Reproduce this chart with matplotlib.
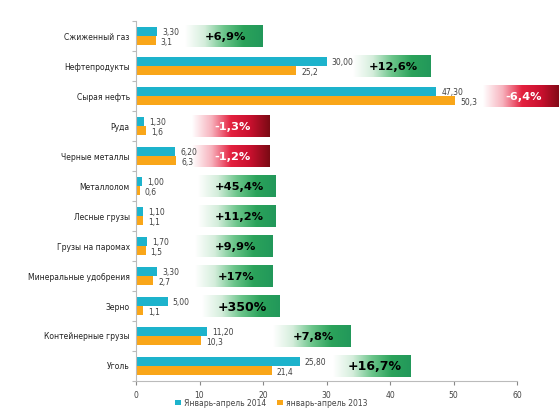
import numpy as np
import matplotlib.pyplot as plt
from matplotlib.colors import LinearSegmentedColormap

# категории сверху вниз
categories = ['Сжиженный газ', 'Нефтепродукты', 'Сырая нефть', 'Руда',
              'Черные металлы', 'Металлолом', 'Лесные грузы', 'Грузы на паромах',
              'Минеральные удобрения', 'Зерно', 'Контейнерные грузы', 'Уголь']
v2014 = [3.30, 30.00, 47.30, 1.30, 6.20, 1.00, 1.10, 1.70, 3.30, 5.00, 11.20, 25.80]
v2013 = [3.1, 25.2, 50.3, 1.6, 6.3, 0.6, 1.1, 1.5, 2.7, 1.1, 10.3, 21.4]
lab2014 = ['3,30', '30,00', '47,30', '1,30', '6,20', '1,00', '1,10', '1,70',
           '3,30', '5,00', '11,20', '25,80']
lab2013 = ['3,1', '25,2', '50,3', '1,6', '6,3', '0,6', '1,1', '1,5',
           '2,7', '1,1', '10,3', '21,4']
changes = ['+6,9%', '+12,6%', '-6,4%', '-1,3%', '-1,2%', '+45,4%', '+11,2%',
           '+9,9%', '+17%', '+350%', '+7,8%', '+16,7%']
# левый край плашки с процентом (в единицах оси x)
box_left = [7.7, 34.1, 54.6, 8.8, 8.8, 9.8, 9.8, 9.3, 9.3, 10.4, 21.5, 31.1]
box_w = 12.2

blue = '#1DB3CC'
orange = '#F9A619'
green_cm = LinearSegmentedColormap.from_list('g', ['#FFFFFF', '#D5EEDC', '#6CC58B', '#2BA35B', '#22985A'])
red_cm = LinearSegmentedColormap.from_list('r', ['#FFFFFF', '#F7B3BE', '#E4213F', '#C8102E', '#7A0A14'])

fig = plt.figure(figsize=(5.59, 4.10), dpi=100)
ax = fig.add_axes([0.2433, 0.0683, 0.6816, 0.878])

y = np.arange(len(categories))
h = 0.29
ax.barh(y - h / 2, v2014, height=h, color=blue, label='Январь-апрель 2014')
ax.barh(y + h / 2, v2013, height=h, color=orange, label='январь-апрель 2013')

for i in range(len(categories)):
    ax.text(v2014[i] + 0.8, y[i] - h / 2, lab2014[i], fontsize=5.5, color='#404040',
            va='center', ha='left')
    ax.text(v2013[i] + 0.8, y[i] + h / 2 + 0.03, lab2013[i], fontsize=5.5, color='#404040',
            va='center', ha='left')
    neg = changes[i].startswith('-')
    grad = np.linspace(0, 1, 256).reshape(1, -1)
    x0 = box_left[i]
    ax.imshow(grad, cmap=red_cm if neg else green_cm, aspect='auto',
              extent=(x0, x0 + box_w, y[i] + 0.36, y[i] - 0.36),
              clip_on=False, zorder=2, interpolation='bilinear')
    big = changes[i] in ('+350%', '+16,7%')
    ax.text(x0 + box_w / 2 + 0.3, y[i], changes[i], fontsize=9 if big else 8.2,
            fontweight='bold', color='white' if neg else 'black',
            ha='center', va='center', zorder=3, clip_on=False)
    ax.text(-1.0, y[i], categories[i], fontsize=5.5, color='#222222',
            ha='right', va='center')

ax.set_xlim(0, 60)
ax.set_ylim(len(categories) - 0.5, -0.5)
ax.set_xticks(range(0, 61, 10))
ax.set_yticks(np.arange(-0.5, len(categories), 1))
ax.set_yticklabels([])
ax.tick_params(axis='x', labelsize=5.5, colors='#888888', labelcolor='#444444', length=3)
ax.tick_params(axis='y', colors='#BBBBBB', length=3)
for s in ['top', 'right']:
    ax.spines[s].set_visible(False)
ax.spines['left'].set_color('#BBBBBB')
ax.spines['bottom'].set_color('#BBBBBB')

ax.legend(loc='upper center', bbox_to_anchor=(0.355, -0.028), ncol=2, frameon=False,
          fontsize=5.5, handlelength=0.7, handleheight=0.7, columnspacing=1.5,
          handletextpad=0.4, labelcolor='#444444')

fig.savefig('out.png', dpi=100)
